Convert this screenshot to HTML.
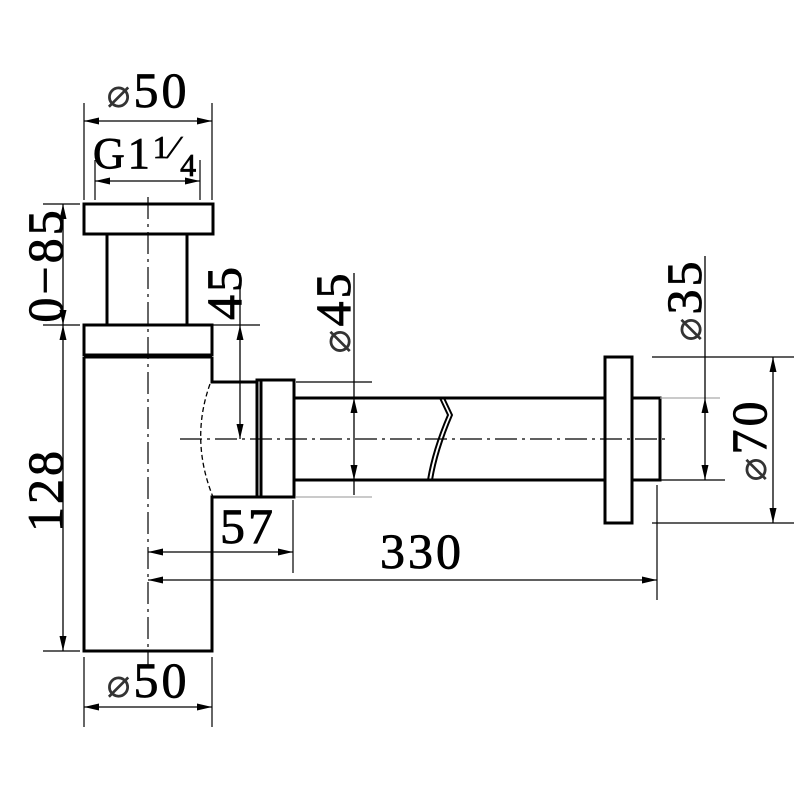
<!DOCTYPE html>
<html><head><meta charset="utf-8"><style>
html,body{margin:0;padding:0;background:#fff;}
svg{display:block}
text{font-family:"Liberation Serif",serif;fill:#000;}
.d{font-size:50px;letter-spacing:3px;stroke:#000;stroke-width:0.8}
.phi{font-family:"DejaVu Sans",sans-serif;font-size:40px;fill:#333;stroke-width:0}
</style></head><body>
<svg width="800" height="800" viewBox="0 0 800 800" xmlns="http://www.w3.org/2000/svg">
<defs>
<marker id="a" viewBox="0 0 15 7" refX="15" refY="3.5" markerWidth="15" markerHeight="7" markerUnits="userSpaceOnUse" orient="auto-start-reverse">
<path d="M0,0 L15,3.5 L0,7 z" fill="#000"/>
</marker>
</defs>
<rect width="800" height="800" fill="#fff"/>
<g fill="none" stroke="#000" stroke-width="3">
<rect x="84" y="204" width="129" height="30"/>
<line x1="107" y1="234" x2="107" y2="325"/>
<line x1="187" y1="234" x2="187" y2="325"/>
<rect x="84" y="325" width="128" height="30"/>
<line x1="84" y1="357" x2="212" y2="357"/>
<path d="M84,357 L84,651 L212,651 L212,497 L257,497 M212,357 L212,382 L257,382"/>
<rect x="257" y="380" width="4" height="117"/>
<rect x="261" y="380" width="33" height="117"/>
<path d="M294,398 L605,398 M294,480 L605,480"/>
<rect x="605" y="357" width="27" height="166"/>
<rect x="632" y="398" width="28" height="82"/>
</g>
<path d="M440,398 L448,415 Q433,450 428,480 M444,398 L452,415 Q437,450 432,480" fill="none" stroke="#000" stroke-width="2"/>
<path d="M210,384 Q190,440 213,497" fill="none" stroke="#000" stroke-width="1.3" stroke-dasharray="5,3"/>
<g stroke="#000" stroke-width="1.2" stroke-dasharray="22,5,3,5">
<line x1="148" y1="197" x2="148" y2="665"/>
<line x1="180" y1="439" x2="668" y2="439"/>
</g>
<g stroke="#000" stroke-width="1.2">
<line x1="84" y1="103" x2="84" y2="200"/>
<line x1="212" y1="103" x2="212" y2="200"/>
<line x1="95" y1="160" x2="95" y2="200"/>
<line x1="200" y1="160" x2="200" y2="200"/>
<line x1="43" y1="204" x2="80" y2="204"/>
<line x1="43" y1="325" x2="80" y2="325"/>
<line x1="43" y1="651" x2="80" y2="651"/>
<line x1="195" y1="325" x2="260" y2="325"/>
<line x1="84" y1="657" x2="84" y2="727"/>
<line x1="212" y1="657" x2="212" y2="727"/>
<line x1="293" y1="500" x2="293" y2="573"/>
<line x1="657" y1="485" x2="657" y2="600"/>
<line x1="652" y1="357" x2="794" y2="357"/>
<line x1="652" y1="523" x2="794" y2="523"/>
<line x1="660" y1="480" x2="725" y2="480"/>
<line x1="296" y1="382" x2="372" y2="382"/>
</g>
<g stroke="#aaa" stroke-width="1.2">
<line x1="296" y1="497" x2="372" y2="497"/>
<line x1="660" y1="398" x2="720" y2="398"/>
</g>
<g stroke="#000" stroke-width="1.3">
<line x1="84" y1="121" x2="212" y2="121" marker-start="url(#a)" marker-end="url(#a)"/>
<line x1="95" y1="181" x2="200" y2="181" marker-start="url(#a)" marker-end="url(#a)"/>
<line x1="63" y1="204" x2="63" y2="325" marker-start="url(#a)" marker-end="url(#a)"/>
<line x1="63" y1="325" x2="63" y2="651" marker-start="url(#a)" marker-end="url(#a)"/>
<line x1="240" y1="273" x2="240" y2="325"/>
<line x1="240" y1="325" x2="240" y2="439" marker-start="url(#a)" marker-end="url(#a)"/>
<line x1="84" y1="707" x2="212" y2="707" marker-start="url(#a)" marker-end="url(#a)"/>
<line x1="148" y1="552" x2="293" y2="552" marker-start="url(#a)" marker-end="url(#a)"/>
<line x1="148" y1="580" x2="657" y2="580" marker-start="url(#a)" marker-end="url(#a)"/>
<line x1="354" y1="273" x2="354" y2="398"/>
<line x1="354" y1="398" x2="354" y2="480" marker-start="url(#a)" marker-end="url(#a)"/>
<line x1="354" y1="480" x2="354" y2="495"/>
<line x1="705" y1="256" x2="705" y2="398"/>
<line x1="705" y1="398" x2="705" y2="480" marker-start="url(#a)" marker-end="url(#a)"/>
<line x1="773" y1="357" x2="773" y2="523" marker-start="url(#a)" marker-end="url(#a)"/>
</g>
<text x="148" y="107" text-anchor="middle" class="d"><tspan class="phi">⌀</tspan>50</text>
<text x="146" y="168" text-anchor="middle" class="d" style="font-size:44px">G1<tspan font-size="32" dy="-10">1</tspan><tspan font-size="32" dy="0">⁄</tspan><tspan font-size="32" dy="18">4</tspan></text>
<text x="148" y="697" text-anchor="middle" class="d"><tspan class="phi">⌀</tspan>50</text>
<text x="248" y="543" text-anchor="middle" class="d">57</text>
<text x="422" y="568" text-anchor="middle" class="d">330</text>
<text transform="translate(62,265) rotate(-90)" text-anchor="middle" class="d">0−85</text>
<text transform="translate(62,490) rotate(-90)" text-anchor="middle" class="d">128</text>
<text transform="translate(241,292) rotate(-90)" text-anchor="middle" class="d">45</text>
<text transform="translate(350,312) rotate(-90)" text-anchor="middle" class="d"><tspan class="phi">⌀</tspan>45</text>
<text transform="translate(701,300) rotate(-90)" text-anchor="middle" class="d"><tspan class="phi">⌀</tspan>35</text>
<text transform="translate(766,440) rotate(-90)" text-anchor="middle" class="d"><tspan class="phi">⌀</tspan>70</text>
</svg>
</body></html>
